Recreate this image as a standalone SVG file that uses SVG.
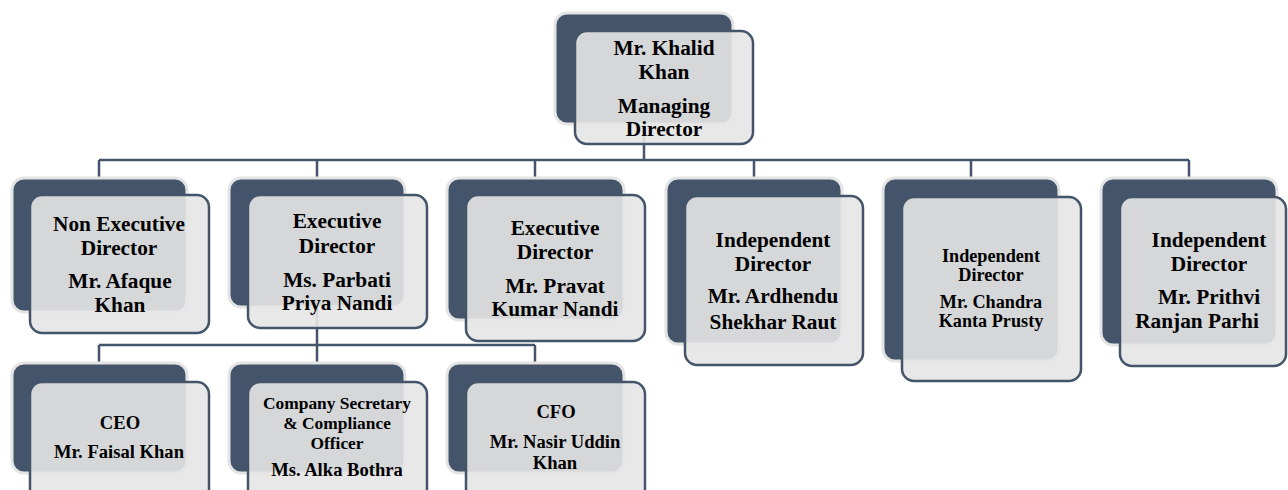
<svg xmlns="http://www.w3.org/2000/svg" width="1288" height="490" viewBox="0 0 1288 490">
<style>
.back{fill:#44546a;stroke:#e4e4e4;stroke-width:3}
.front{fill:#e6e6e6;fill-opacity:0.9;stroke:#44546a;stroke-width:2.5}
.conn{fill:none;stroke:#44546a;stroke-width:2.5}
text{font-family:"Liberation Serif","Times New Roman",serif;font-weight:bold;fill:#000;text-anchor:middle}
.l{font-size:21.3px}
.m{font-size:18.2px}
.s{font-size:18.6px}
.t{font-size:17.4px}
</style>
<rect width="1288" height="490" fill="#ffffff"/>
<g id="connectors">
<path class="conn" d="M644 70 V160 M99 160 H1189 M99 160 V178 M317 160 V178 M535 160 V178 M754 160 V178 M971 160 V178 M1189 160 V178"/>
<path class="conn" d="M317 250 V345 M99 345 H535 M99 345 V363 M317 345 V363 M535 345 V363"/>
</g>
<g id="root">
<rect class="back" x="555" y="13" width="178" height="111" rx="12"/>
<rect class="front" x="575" y="31" width="178" height="113" rx="12"/>
<text class="l" x="664" y="55">Mr. Khalid</text>
<text class="l" x="664" y="79">Khan</text>
<text class="l" x="664" y="113">Managing</text>
<text class="l" x="664" y="136">Director</text>
</g>
<g id="n1">
<rect class="back" x="12" y="178" width="175" height="134" rx="12"/>
<rect class="front" x="30" y="195" width="179" height="138" rx="12"/>
<text class="l" x="119" y="231">Non Executive</text>
<text class="l" x="119" y="255">Director</text>
<text class="l" x="120" y="288">Mr. Afaque</text>
<text class="l" x="120" y="312">Khan</text>
</g>
<g id="n2">
<rect class="back" x="229" y="178" width="176" height="129" rx="12"/>
<rect class="front" x="248" y="195" width="179" height="133" rx="12"/>
<text class="l" x="337" y="228">Executive</text>
<text class="l" x="337" y="253">Director</text>
<text class="l" x="337" y="287">Ms. Parbati</text>
<text class="l" x="337" y="310">Priya Nandi</text>
</g>
<g id="n3">
<rect class="back" x="447" y="178" width="177" height="142" rx="12"/>
<rect class="front" x="466" y="195" width="179" height="146" rx="12"/>
<text class="l" x="555" y="235">Executive</text>
<text class="l" x="555" y="259">Director</text>
<text class="l" x="555" y="293">Mr. Pravat</text>
<text class="l" x="555" y="316">Kumar Nandi</text>
</g>
<g id="n4">
<rect class="back" x="666" y="178" width="176" height="166" rx="12"/>
<rect class="front" x="685" y="196" width="178" height="169" rx="12"/>
<text class="l" x="773" y="247">Independent</text>
<text class="l" x="773" y="271">Director</text>
<text class="l" x="773" y="303">Mr. Ardhendu</text>
<text class="l" x="773" y="329">Shekhar Raut</text>
</g>
<g id="n5">
<rect class="back" x="883" y="178" width="176" height="183" rx="12"/>
<rect class="front" x="902" y="197" width="179" height="184" rx="12"/>
<text class="m" x="991" y="262">Independent</text>
<text class="m" x="991" y="281">Director</text>
<text class="m" x="991" y="308">Mr. Chandra</text>
<text class="m" x="991" y="327">Kanta Prusty</text>
</g>
<g id="n6">
<rect class="back" x="1101" y="178" width="176" height="167" rx="12"/>
<rect class="front" x="1120" y="197" width="166" height="169" rx="12"/>
<text class="l" x="1209" y="247">Independent</text>
<text class="l" x="1209" y="271">Director</text>
<text class="l" x="1209" y="304">Mr. Prithvi</text>
<text class="l" x="1197" y="328">Ranjan Parhi</text>
</g>
<g id="ceo">
<rect class="back" x="12" y="363" width="175" height="110" rx="12"/>
<rect class="front" x="30" y="382" width="179" height="120" rx="12"/>
<text class="s" x="120" y="429">CEO</text>
<text class="s" x="119" y="458">Mr. Faisal Khan</text>
</g>
<g id="cs">
<rect class="back" x="229" y="363" width="176" height="110" rx="12"/>
<rect class="front" x="248" y="382" width="179" height="120" rx="12"/>
<text class="t" x="337" y="409">Company Secretary</text>
<text class="t" x="337" y="429">&amp; Compliance</text>
<text class="t" x="337" y="449">Officer</text>
<text class="s" x="337" y="476">Ms. Alka Bothra</text>
</g>
<g id="cfo">
<rect class="back" x="447" y="363" width="177" height="110" rx="12"/>
<rect class="front" x="466" y="382" width="179" height="120" rx="12"/>
<text class="s" x="556" y="418">CFO</text>
<text class="s" x="555" y="448">Mr. Nasir Uddin</text>
<text class="s" x="555" y="469">Khan</text>
</g>
</svg>
